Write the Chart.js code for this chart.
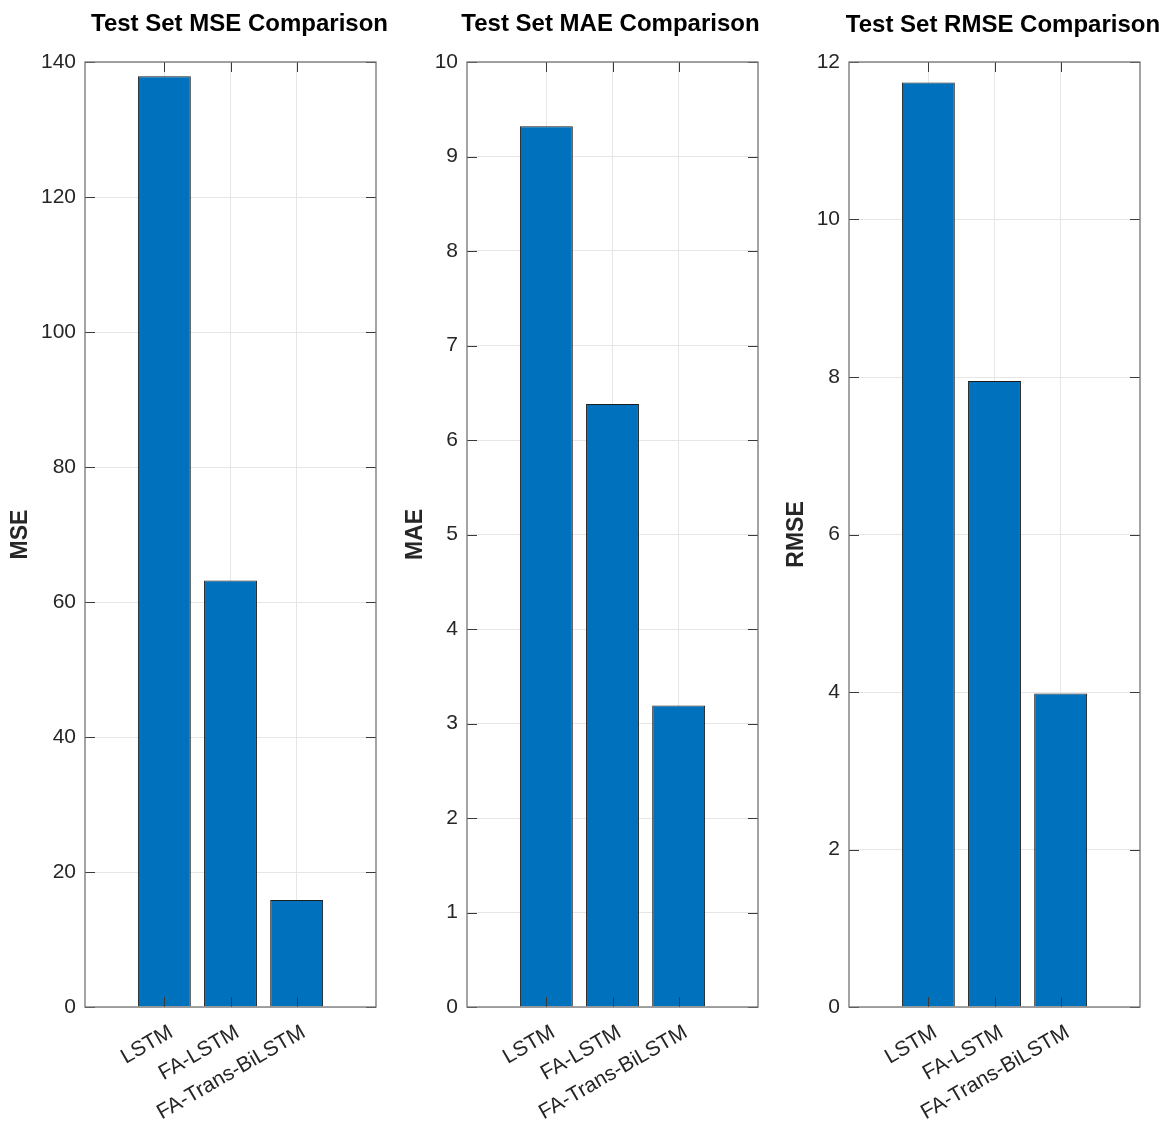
<!DOCTYPE html>
<html>
<head>
<meta charset="utf-8">
<script src="https://cdn.jsdelivr.net/npm/chart.js@4/dist/chart.umd.min.js"></script>
<style>
  html, body { margin: 0; padding: 0; background: #fff; }
  #page { position: relative; width: 1166px; height: 1125px; overflow: hidden; background: #fff; }
  .panel { position: absolute; top: 0; }
</style>
</head>
<body>
<div id="page">
  <div class="panel" id="panel0"><canvas id="c0"></canvas></div>
  <div class="panel" id="panel1"><canvas id="c1"></canvas></div>
  <div class="panel" id="panel2"><canvas id="c2"></canvas></div>
</div>
<script>
// Models compared on the test set
const categories = ['LSTM', 'FA-LSTM', 'FA-Trans-BiLSTM'];

// Error metrics per model
const mseValues  = [137.9, 63.2, 15.85];
const maeValues  = [9.32, 6.38, 3.19];
const rmseValues = [11.74, 7.95, 3.98];

// Y-axis tick ranges for each panel
const mseTicks  = { min: 0, max: 140, step: 20 };
const maeTicks  = { min: 0, max: 10,  step: 1 };
const rmseTicks = { min: 0, max: 12,  step: 2 };

const FONT = '"Liberation Sans", Arial, Helvetica, sans-serif';
const BAR_BLUE = '#0072BD';
const TICK_LEN = 10;
const TICK_FONT_SIZE = 21;

// Panel layout: canvas left edge, plot area left/right, title offset/baseline
const panels = [
  { canvas: 'c0', holder: 'panel0', left: 7,   plotLeft: 85,  plotRight: 376,  titleShift: 9,   titleBase: 30.5,
    title: 'Test Set MSE Comparison',  yTitle: 'MSE',  values: mseValues,  ticks: mseTicks },
  { canvas: 'c1', holder: 'panel1', left: 402, plotLeft: 467, plotRight: 757.5, titleShift: -2, titleBase: 30.5,
    title: 'Test Set MAE Comparison',  yTitle: 'MAE',  values: maeValues,  ticks: maeTicks },
  { canvas: 'c2', holder: 'panel2', left: 783, plotLeft: 849, plotRight: 1139.5, titleShift: 8.5, titleBase: 31.5,
    title: 'Test Set RMSE Comparison', yTitle: 'RMSE', values: rmseValues, ticks: rmseTicks }
];
const PLOT_TOP = 62, PLOT_BOTTOM = 1007, PAGE_H = 1125, RIGHT_PAD = 26;

// Bold title above each axes box
const panelTitle = {
  id: 'panelTitle',
  afterDraw(chart, args, opts) {
    const { ctx, chartArea: a } = chart;
    ctx.save();
    ctx.font = 'bold 24px ' + FONT;
    ctx.fillStyle = '#000';
    ctx.textAlign = 'center';
    ctx.textBaseline = 'alphabetic';
    ctx.fillText(opts.text, (a.left + a.right) / 2 + opts.shift, opts.baseline);
    ctx.restore();
  }
};

// Axes box with inward tick marks on all four sides
const axesBox = {
  id: 'axesBox',
  afterDatasetsDraw(chart) {
    const { ctx, chartArea: a, scales: { x, y } } = chart;
    ctx.save();
    ctx.lineWidth = 1;
    ctx.strokeStyle = '#3a3a3a';
    ctx.beginPath();
    y.ticks.forEach(t => {
      const py = Math.round(y.getPixelForValue(t.value)) + 0.5;
      ctx.moveTo(a.left, py);  ctx.lineTo(a.left + TICK_LEN, py);
      ctx.moveTo(a.right, py); ctx.lineTo(a.right - TICK_LEN, py);
    });
    x.ticks.forEach(t => {
      const px = Math.round(x.getPixelForValue(t.value)) + 0.5;
      ctx.moveTo(px, a.bottom); ctx.lineTo(px, a.bottom - TICK_LEN);
      ctx.moveTo(px, a.top);    ctx.lineTo(px, a.top + TICK_LEN);
    });
    ctx.stroke();
    ctx.strokeStyle = '#737373';
    ctx.lineWidth = 1.3;
    ctx.strokeRect(a.left, a.top, a.right - a.left, a.bottom - a.top);
    ctx.restore();
  }
};

panels.forEach(p => {
  const holder = document.getElementById(p.holder);
  const width = Math.round(p.plotRight - p.left + RIGHT_PAD);
  holder.style.left = p.left + 'px';
  holder.style.width = width + 'px';
  holder.style.height = PAGE_H + 'px';
  const canvas = document.getElementById(p.canvas);
  canvas.width = width;
  canvas.height = PAGE_H;

  const points = categories.map((c, i) => ({ x: i + 1, y: p.values[i] }));

  new Chart(canvas, {
    type: 'bar',
    data: {
      datasets: [{
        data: points,
        backgroundColor: BAR_BLUE,
        borderColor: '#1c1c1c',
        borderWidth: 1,
        categoryPercentage: 1,
        barPercentage: 0.8
      }]
    },
    plugins: [panelTitle, axesBox],
    options: {
      responsive: false,
      animation: false,
      events: [],
      layout: { padding: { top: PLOT_TOP, right: RIGHT_PAD, bottom: 0, left: 0 } },
      plugins: {
        legend: { display: false },
        tooltip: { enabled: false },
        panelTitle: { text: p.title, shift: p.titleShift, baseline: p.titleBase }
      },
      scales: {
        x: {
          type: 'linear',
          min: -0.2,
          max: categories.length + 1.2,
          offset: false,
          afterBuildTicks(scale) {
            scale.ticks = categories.map((c, i) => ({ value: i + 1 }));
          },
          afterFit(scale) { scale.height = PAGE_H - PLOT_BOTTOM; },
          ticks: {
            autoSkip: false,
            minRotation: 30,
            maxRotation: 30,
            padding: 13,
            labelOffset: 7,
            color: '#262626',
            font: { family: FONT, size: TICK_FONT_SIZE },
            callback: v => categories[v - 1] ?? ''
          },
          grid: { color: '#e6e6e6', lineWidth: 1, drawTicks: false, offset: false },
          border: { display: false }
        },
        y: {
          min: p.ticks.min,
          max: p.ticks.max,
          afterFit(scale) { scale.width = p.plotLeft - p.left; },
          ticks: {
            stepSize: p.ticks.step,
            padding: 9,
            color: '#262626',
            font: { family: FONT, size: TICK_FONT_SIZE }
          },
          grid: { color: '#e6e6e6', lineWidth: 1, drawTicks: false },
          border: { display: false },
          title: {
            display: true,
            text: p.yTitle,
            color: '#262626',
            padding: 0,
            font: { family: FONT, size: 23, weight: 'bold' }
          }
        }
      }
    }
  });
});
</script>
</body>
</html>
